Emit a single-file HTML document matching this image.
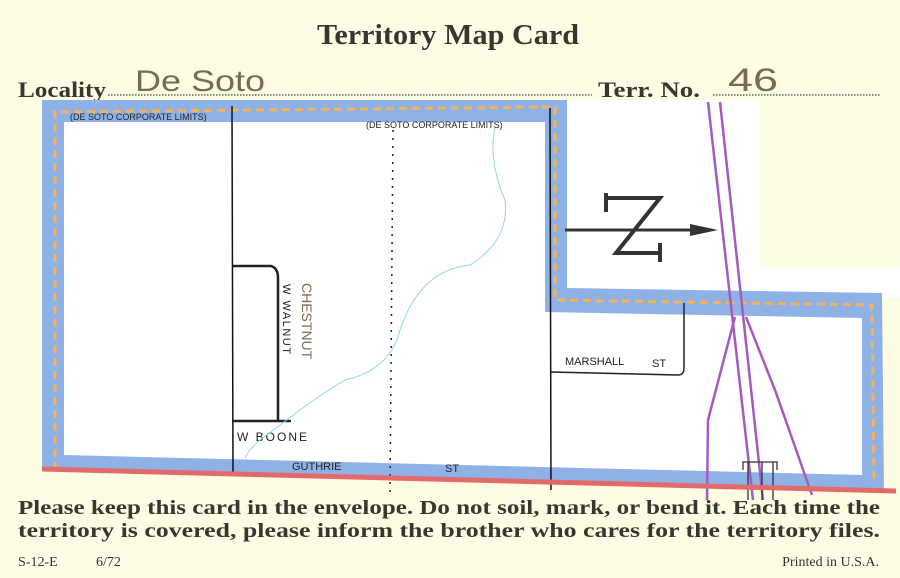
<!DOCTYPE html>
<html><head><meta charset="utf-8"><style>
html,body{margin:0;padding:0;background:#fdfde3;}
svg{display:block}
.t{font-family:"Liberation Serif",serif;font-weight:bold;fill:#3a3530}
.s{font-family:"Liberation Sans",sans-serif;fill:#222}
.h{font-family:"Liberation Sans",sans-serif;fill:#7a6a50}
</style></head><body>
<svg width="900" height="578" viewBox="0 0 900 578">
<rect width="900" height="578" fill="#fdfde3"/>
<text class="t" x="317" y="44" font-size="29" textLength="262" lengthAdjust="spacingAndGlyphs">Territory Map Card</text>
<text class="t" x="18" y="97" font-size="22" textLength="88" lengthAdjust="spacingAndGlyphs">Locality</text>
<line x1="108" y1="95" x2="592" y2="95" stroke="#444" stroke-width="1.3" stroke-dasharray="1.5 1.5"/>
<text class="h" x="135" y="91" font-size="30" font-weight="normal" textLength="130" lengthAdjust="spacingAndGlyphs">De Soto</text>
<text class="t" x="598" y="97" font-size="22" textLength="102" lengthAdjust="spacingAndGlyphs">Terr. No.</text>
<line x1="713" y1="95" x2="880" y2="95" stroke="#444" stroke-width="1.3" stroke-dasharray="1.5 1.5"/>
<text class="h" x="728" y="91" font-size="32" textLength="50" lengthAdjust="spacingAndGlyphs">46</text>

<g>
<rect x="565" y="100" width="195" height="175" fill="#fff"/>
<rect x="565" y="268" width="335" height="30" fill="#fff"/>
<polygon points="42,100 567,100 567,288 882,293 884,492 42,470" fill="#8fb2e6"/>
<polygon points="64,122 545,122 545,312 862,318 862,475 64,455" fill="#fff"/>
<polyline points="55,470 55,112 555,107 555,300 872,305 874,480" fill="none" stroke="#f4b25a" stroke-width="3" stroke-dasharray="8 5"/>
<text class="s" x="70" y="120" font-size="9">(DE SOTO CORPORATE LIMITS)</text>
<text class="s" x="366" y="128" font-size="9">(DE SOTO CORPORATE LIMITS)</text>
<line x1="232" y1="106" x2="233" y2="476" stroke="#111" stroke-width="1.5"/>
<line x1="393" y1="130" x2="390" y2="492" stroke="#222" stroke-width="1.5" stroke-dasharray="2 6"/>
<line x1="550" y1="108" x2="551" y2="490" stroke="#111" stroke-width="1.5"/>
<path d="M233,266 H271 Q278,268 278,278 V420" fill="none" stroke="#222" stroke-width="2.5"/>
<line x1="233" y1="421" x2="291" y2="421" stroke="#222" stroke-width="2.5"/>
<text class="s" x="237" y="441" font-size="12" letter-spacing="2">W BOONE</text>
<text class="s" x="283" y="284" font-size="11" transform="rotate(90 283 284)" letter-spacing="1.5">W WALNUT</text>
<text class="h" x="302" y="283" font-size="14" fill="#777" transform="rotate(90 302 283)">CHESTNUT</text>
<path d="M551,372 L678,375 Q684,375 684,368 V303" fill="none" stroke="#222" stroke-width="1.5"/>
<text class="s" x="565" y="365" font-size="11">MARSHALL</text>
<text class="s" x="652" y="367" font-size="11">ST</text>
<text class="s" x="292" y="470" font-size="11">GUTHRIE</text>
<text class="s" x="445" y="472" font-size="11">ST</text>
<path d="M495,128 Q488,160 505,200 Q510,240 470,265 Q420,270 400,330 Q390,370 345,380 Q320,395 300,410 Q280,425 260,440 Q250,448 245,458" fill="none" stroke="#8fd8e8" stroke-width="1"/>
<g>
<line x1="565" y1="230" x2="700" y2="230" stroke="#333" stroke-width="3"/>
<polygon points="690,224 718,230 690,236" fill="#333"/>
<path d="M606,198 H660 L616,253 H660 M606,193 V212 M660,243 V262" fill="none" stroke="#333" stroke-width="4"/>
</g>
<g fill="none" stroke="#a65ac0" stroke-width="2.5">
<line x1="708" y1="102" x2="753" y2="500"/>
<line x1="720" y1="102" x2="763" y2="500"/>
<path d="M735,317 L708,420 L707,500"/>
<path d="M746,317 L775,390 L812,495"/>
</g>
<path d="M743,470 V462 H777 V470 M748,462 V500 M762,462 V500 M773,462 V500" fill="none" stroke="#333" stroke-width="1.3"/>
<line x1="42" y1="469" x2="896" y2="491" stroke="#e36a6a" stroke-width="5"/>
</g>

<text class="t" x="18" y="514" font-size="20" textLength="862" lengthAdjust="spacingAndGlyphs">Please keep this card in the envelope. Do not soil, mark, or bend it. Each time the</text>
<text class="t" x="18" y="537" font-size="20" textLength="862" lengthAdjust="spacingAndGlyphs">territory is covered, please inform the brother who cares for the territory files.</text>
<text x="18" y="566" font-size="14" font-family="Liberation Serif,serif" fill="#333">S-12-E</text>
<text x="96" y="566" font-size="14" font-family="Liberation Serif,serif" fill="#333">6/72</text>
<text x="879" y="566" font-size="14" font-family="Liberation Serif,serif" fill="#333" text-anchor="end">Printed in U.S.A.</text>
</svg>
</body></html>
